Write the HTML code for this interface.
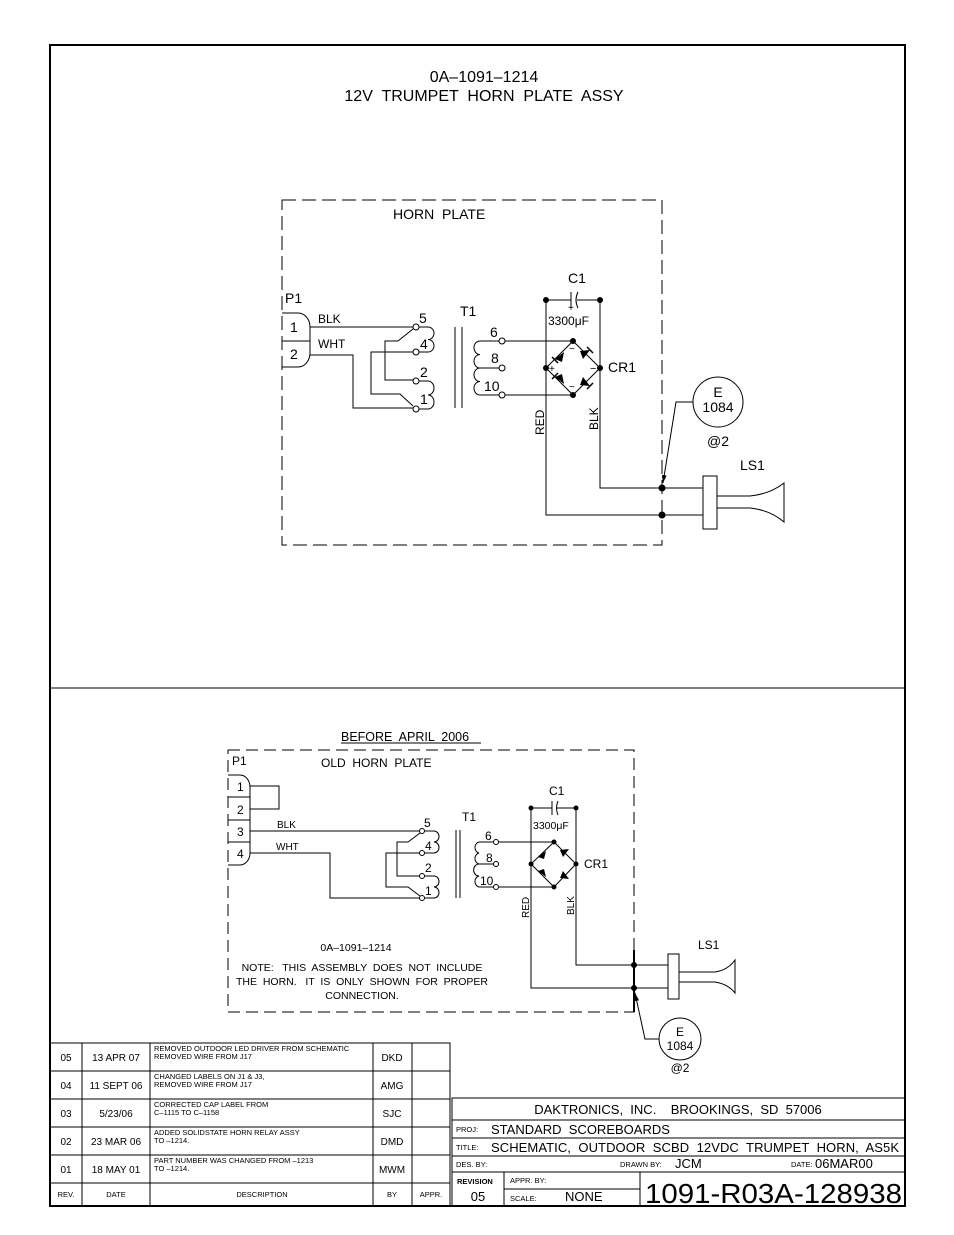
<!DOCTYPE html>
<html><head><meta charset="utf-8"><style>
html,body{margin:0;padding:0;background:#fff}
svg{display:block}
text{font-family:"Liberation Sans",sans-serif;fill:#000;white-space:pre}
</style></head><body>
<svg width="954" height="1235" viewBox="0 0 954 1235" xmlns="http://www.w3.org/2000/svg" xml:space="preserve">
<defs>
<marker id="ar" viewBox="0 0 10 10" refX="10" refY="5" markerWidth="8" markerHeight="8" orient="auto"><path d="M0,2 L10,5 L0,8z" fill="#000"/></marker>
</defs>
<rect width="954" height="1235" fill="#fff"/>
<rect x="50" y="45" width="855" height="1161" fill="none" stroke="#000" stroke-width="2"/>
<line x1="50" y1="688" x2="905" y2="688" stroke="#000" stroke-width="1"/>

<text x="484" y="82" font-size="16" text-anchor="middle">0A–1091–1214</text>
<text x="484" y="101" font-size="16" text-anchor="middle">12V  TRUMPET  HORN  PLATE  ASSY</text>

<g fill="none" stroke="#000" stroke-width="1">
<path d="M282,200 H662 V545 H282 Z" stroke-dasharray="14,6"/>
<path d="M282,313 H298 A12,14 0 0 1 310,327 V353 A12,14 0 0 1 298,367 H282" />
<line x1="282" y1="341" x2="310" y2="341"/>
<path d="M310,327 H413"/>
<path d="M310,355 H353 V408 H400 L413,408"/>
<path d="M413,329 L398,341 H385 V380 H413"/>
<path d="M413,352 H371 V394 H400 L413,406"/>
<path d="M418,327 H428 A6,6.25 0 0 1 428,339.5 A6,6.25 0 0 1 428,352 H418"/>
<path d="M418,381 H428 A6,7 0 0 1 428,395 A6,7 0 0 1 428,409 H418"/>
<line x1="455" y1="327" x2="455" y2="408"/><line x1="462" y1="327" x2="462" y2="408"/>
<path d="M499,341 H480 A6,6.75 0 0 0 480,354.5 A6,6.75 0 0 0 480,368 A6,6.75 0 0 0 480,381.5 A6,6.75 0 0 0 480,395 H499"/>
<line x1="480" y1="368" x2="499" y2="368"/>
<path d="M505,341 H573 M505,395 H573"/>
<path d="M573,341 L600,368 L573,395 L546,368 Z"/>
<path d="M546,300 H571 M577,300 H600"/>
<line x1="571" y1="292" x2="571" y2="308"/>
<path d="M578,292 Q574,300 578,308"/>
<path d="M546,300 V515 H662 M600,300 V488 H662"/>
<path d="M662,488 H703 M662,515 H703"/>
<rect x="703" y="476" width="14" height="53"/>
<path d="M717,496 H750 Q770,494 784,483 V522 Q770,510 750,508 H717"/>
<circle cx="718" cy="402" r="25"/>
<path d="M693,402 H676 L663,483" marker-end="url(#ar)"/>
</g>
<g fill="#fff" stroke="#000" stroke-width="1">
<circle cx="416" cy="327" r="3"/><circle cx="416" cy="352" r="3"/><circle cx="416" cy="381" r="3"/><circle cx="416" cy="409" r="3"/>
<circle cx="502" cy="341" r="3"/><circle cx="502" cy="368" r="3"/><circle cx="502" cy="395" r="3"/>
</g>
<g fill="#000">
<circle cx="546" cy="300" r="3"/><circle cx="600" cy="300" r="3"/>
<circle cx="573" cy="341" r="3"/><circle cx="546" cy="368" r="3"/><circle cx="600" cy="368" r="3"/><circle cx="573" cy="395" r="3"/>
<circle cx="662" cy="488" r="3.5"/><circle cx="662" cy="515" r="3.5"/>
<path d="M555,359 L564,352 L562,362z"/><path d="M590,350 L583,359 L580,351z"/>
<path d="M555,377 L564,384 L562,374z"/><path d="M590,386 L583,377 L580,385z"/>
</g>
<g stroke="#000" stroke-width="1.5">
<line x1="552" y1="357" x2="558" y2="363"/><line x1="587" y1="347" x2="593" y2="353"/>
<line x1="552" y1="379" x2="558" y2="373"/><line x1="587" y1="389" x2="593" y2="383"/>
</g>
<g font-size="14">
<text x="393" y="219">HORN  PLATE</text>
<text x="285" y="303">P1</text>
<text x="290" y="332">1</text><text x="290" y="359">2</text>
<text x="318" y="323" font-size="12">BLK</text><text x="318" y="348" font-size="12">WHT</text>
<text x="419" y="323">5</text><text x="420" y="349">4</text><text x="420" y="377">2</text><text x="420" y="404">1</text>
<text x="460" y="316">T1</text>
<text x="490" y="337">6</text><text x="491" y="363">8</text><text x="484" y="391">10</text>
<text x="568" y="283">C1</text>
<text x="548" y="325" font-size="12">3300μF</text>
<text x="568" y="311" font-size="10">+</text>
<text x="608" y="372">CR1</text>
<text x="549" y="372" font-size="10">+</text><text x="590" y="372" font-size="11">−</text>
<text x="569" y="352" font-size="10">~</text><text x="569" y="390" font-size="10">~</text>
<text x="718" y="397" text-anchor="middle">E</text>
<text x="718" y="412" text-anchor="middle">1084</text>
<text x="718" y="446" text-anchor="middle">@2</text>
<text x="740" y="470">LS1</text>
<text transform="translate(544,435) rotate(-90)" font-size="12">RED</text>
<text transform="translate(598,430) rotate(-90)" font-size="12">BLK</text>
</g>

<text x="341" y="741" font-size="12.5">BEFORE  APRIL  2006</text>
<line x1="341" y1="743" x2="481" y2="743" stroke="#000"/>
<g fill="none" stroke="#000" stroke-width="1">
<path d="M228,750 H634 V1012 H228 Z" stroke-dasharray="12,6"/>
<path d="M228,775 H240 A10,12 0 0 1 250,787 V853 A10,12 0 0 1 240,865 H228"/>
<path d="M228,797 H250 M228,820 H250 M228,842 H250"/>
<path d="M250,786 H279 V809 H250"/>
<path d="M250,831 H420"/>
<path d="M250,853 H330 V898 H420"/>
<path d="M420,833 L408,842 H397 V876 H420"/>
<path d="M420,853 H386 V887 H408 L420,896"/>
<path d="M425,831 H434 A5,5.5 0 0 1 434,842 A5,5.5 0 0 1 434,853 H425"/>
<path d="M425,876 H434 A5,5.5 0 0 1 434,887 A5,5.5 0 0 1 434,898 H425"/>
<line x1="456" y1="830" x2="456" y2="898"/><line x1="460" y1="830" x2="460" y2="898"/>
<path d="M494,842 H479 A5,5.6 0 0 0 479,853 A5,5.6 0 0 0 479,864 A5,5.6 0 0 0 479,876 A5,5.6 0 0 0 479,887 H494"/>
<line x1="479" y1="864" x2="494" y2="864"/>
<path d="M499,842 H554 M499,887 H554"/>
<path d="M554,842 L576,864 L554,887 L531,864 Z"/>
<path d="M531,808 H552 M557,808 H576"/>
<line x1="552" y1="801" x2="552" y2="815"/><path d="M558,801 Q555,808 558,815"/>
<path d="M531,808 V988 H634 M576,808 V965 H634"/>
<path d="M634,965 H668 M634,988 H668"/>
<rect x="668" y="954" width="11" height="45"/>
<path d="M679,972 H715 Q728,970 735,960 V993 Q728,984 715,982 H679"/>
<circle cx="680" cy="1039" r="21"/>
<path d="M659,1039 H645 L635,993" marker-end="url(#ar)"/>
</g>
<line x1="634" y1="950" x2="634" y2="1012" stroke="#000" stroke-width="2"/>
<g fill="#fff" stroke="#000" stroke-width="1">
<circle cx="422" cy="831" r="2.5"/><circle cx="422" cy="853" r="2.5"/><circle cx="422" cy="876" r="2.5"/><circle cx="422" cy="898" r="2.5"/>
<circle cx="496" cy="842" r="2.5"/><circle cx="496" cy="864" r="2.5"/><circle cx="496" cy="887" r="2.5"/>
</g>
<g fill="#000">
<circle cx="531" cy="808" r="2.5"/><circle cx="576" cy="808" r="2.5"/>
<circle cx="554" cy="842" r="2.5"/><circle cx="531" cy="864" r="2.5"/><circle cx="576" cy="864" r="2.5"/><circle cx="554" cy="887" r="2.5"/>
<circle cx="634" cy="965" r="3"/><circle cx="634" cy="988" r="3"/>
<path d="M538,857 L546,851 L544,859z"/><path d="M569,849 L563,857 L560,850z"/>
<path d="M538,871 L546,877 L544,869z"/><path d="M569,879 L563,871 L560,878z"/>
</g>
<g font-size="12">
<text x="232" y="765">P1</text>
<text x="237" y="791">1</text><text x="237" y="814">2</text><text x="237" y="836">3</text><text x="237" y="858">4</text>
<text x="321" y="767">OLD  HORN  PLATE</text>
<text x="277" y="828" font-size="10">BLK</text><text x="276" y="850" font-size="10">WHT</text>
<text x="424" y="827">5</text><text x="425" y="850">4</text><text x="425" y="872">2</text><text x="425" y="895">1</text>
<text x="462" y="821">T1</text>
<text x="485" y="840">6</text><text x="486" y="862">8</text><text x="480" y="885">10</text>
<text x="549" y="795">C1</text>
<text x="533" y="829" font-size="10.5">3300μF</text>
<text x="584" y="868">CR1</text>
<text x="680" y="1036" text-anchor="middle">E</text>
<text x="680" y="1050" text-anchor="middle">1084</text>
<text x="680" y="1072" text-anchor="middle">@2</text>
<text x="698" y="949">LS1</text>
<text transform="translate(529,918) rotate(-90)" font-size="10">RED</text>
<text transform="translate(574,915) rotate(-90)" font-size="10">BLK</text>
<g font-size="10.5" text-anchor="middle">
<text x="356" y="951">0A–1091–1214</text>
<text x="362" y="971">NOTE:   THIS  ASSEMBLY  DOES  NOT  INCLUDE</text>
<text x="362" y="985">THE  HORN.   IT  IS  ONLY  SHOWN  FOR  PROPER</text>
<text x="362" y="999">CONNECTION.</text>
</g>
</g>

<g fill="none" stroke="#000" stroke-width="1">
<rect x="50" y="1043" width="400" height="163"/>
<path d="M50,1071 H450 M50,1099 H450 M50,1127 H450 M50,1155 H450 M50,1183 H450"/>
<path d="M82,1043 V1206 M150,1043 V1206 M373,1043 V1206 M412,1043 V1206"/>
<rect x="452" y="1098" width="453" height="108"/>
<path d="M452,1120 H905 M452,1138 H905 M452,1156 H905 M452,1172 H905"/>
<path d="M504,1172 V1206 M640,1172 V1206 M504,1189 H640"/>
</g>
<g font-size="10">
<text x="66" y="1061" text-anchor="middle">05</text><text x="116" y="1061" text-anchor="middle">13 APR 07</text>
<text x="66" y="1089" text-anchor="middle">04</text><text x="116" y="1089" text-anchor="middle">11 SEPT 06</text>
<text x="66" y="1117" text-anchor="middle">03</text><text x="116" y="1117" text-anchor="middle">5/23/06</text>
<text x="66" y="1145" text-anchor="middle">02</text><text x="116" y="1145" text-anchor="middle">23 MAR 06</text>
<text x="66" y="1173" text-anchor="middle">01</text><text x="116" y="1173" text-anchor="middle">18 MAY 01</text>
<text x="392" y="1061" text-anchor="middle">DKD</text><text x="392" y="1089" text-anchor="middle">AMG</text>
<text x="392" y="1117" text-anchor="middle">SJC</text><text x="392" y="1145" text-anchor="middle">DMD</text>
<text x="392" y="1173" text-anchor="middle">MWM</text>
</g>
<g font-size="7.5">
<text x="154" y="1051">REMOVED OUTDOOR LED DRIVER FROM SCHEMATIC</text><text x="154" y="1059">REMOVED WIRE FROM J17</text>
<text x="154" y="1079">CHANGED LABELS ON J1 &amp; J3,</text><text x="154" y="1087">REMOVED WIRE FROM J17</text>
<text x="154" y="1107">CORRECTED CAP LABEL FROM</text><text x="154" y="1115">C–1115 TO C–1158</text>
<text x="154" y="1135">ADDED SOLIDSTATE HORN RELAY ASSY</text><text x="154" y="1143">TO –1214.</text>
<text x="154" y="1163">PART NUMBER WAS CHANGED FROM –1213</text><text x="154" y="1171">TO –1214.</text>
<text x="66" y="1197" text-anchor="middle">REV.</text><text x="116" y="1197" text-anchor="middle">DATE</text>
<text x="262" y="1197" text-anchor="middle">DESCRIPTION</text><text x="392" y="1197" text-anchor="middle">BY</text>
<text x="431" y="1197" text-anchor="middle">APPR.</text>
<text x="456" y="1132">PROJ:</text><text x="456" y="1150">TITLE:</text><text x="456" y="1167">DES. BY:</text>
<text x="620" y="1167">DRAWN BY:</text><text x="791" y="1167">DATE:</text>
<text x="510" y="1183">APPR. BY:</text><text x="510" y="1201">SCALE:</text>
<text x="457" y="1184" font-weight="bold">REVISION</text>
</g>
<text x="678" y="1114" font-size="13" text-anchor="middle">DAKTRONICS,  INC.    BROOKINGS,  SD  57006</text>
<text x="491" y="1134" font-size="13">STANDARD  SCOREBOARDS</text>
<text x="491" y="1152" font-size="13" textLength="408" lengthAdjust="spacing">SCHEMATIC,  OUTDOOR  SCBD  12VDC  TRUMPET  HORN,  AS5K</text>
<text x="675" y="1168" font-size="13">JCM</text>
<text x="815" y="1168" font-size="13">06MAR00</text>
<text x="478" y="1201" font-size="13" text-anchor="middle">05</text>
<text x="565" y="1201" font-size="13">NONE</text>
<text x="645" y="1203" font-size="28" textLength="257" lengthAdjust="spacingAndGlyphs">1091-R03A-128938</text>
</svg>
</body></html>
